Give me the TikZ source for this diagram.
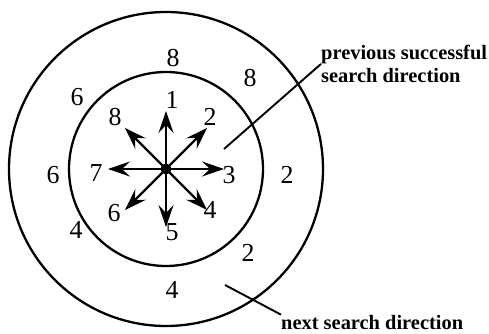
\documentclass[tikz,border=0pt]{standalone}
\usepackage{fontspec}
\setmainfont{Liberation Serif}
\usetikzlibrary{arrows.meta, calc}

\begin{document}
\begin{tikzpicture}[
  x=1bp, y=1bp,
  >={Stealth[length=22bp, width=15bp, inset=8bp]},  % 矢じり
  ring/.style={line width=2.3bp},
  dir/.style={->, line width=2.2bp},
  num/.style={font=\fontsize{26}{26}\selectfont, inner sep=0pt},
  note/.style={font=\fontsize{20.5}{23}\selectfont\bfseries, inner sep=0pt, align=left},
  leader/.style={line width=1.9bp}
  ]
  \useasboundingbox (0,0) rectangle (489,333);

  % --- 円 ---
  \coordinate (ctr) at (166,164);
  \draw [ring] (ctr) circle (157);
  \draw [ring] (ctr) circle (97);
  \fill (ctr) circle (5.5);

  % --- 8方向の矢印 ---
  \foreach \ang/\nm in {90/up, 45/ur, 0/rt, -45/dr, -90/dn, -135/dl, 180/lt, 135/ul} {
    \coordinate (tip-\nm) at ($(ctr)+(\ang:58)$);
    \draw [dir] (ctr) -- (tip-\nm);
  }

  % --- 内側の番号 ---
  \node [num] (n1) at (172,233) {1};
  \node [num] (n2) at (210,216) {2};
  \node [num] (n3) at (229,158) {3};
  \node [num] (n4) at (210,123) {4};
  \node [num] (n5) at (172,101) {5};
  \node [num] (n6) at (114,120) {6};
  \node [num] (n7) at (96,160) {7};
  \node [num] (n8) at (115,216) {8};

  % --- 外側の番号 ---
  \node [num] (o8a) at (173,275) {8};
  \node [num] (o8b) at (250,255) {8};
  \node [num] (o2a) at (287,158) {2};
  \node [num] (o2b) at (248,80) {2};
  \node [num] (o4a) at (172,43) {4};
  \node [num] (o4b) at (76,103) {4};
  \node [num] (o6a) at (53,158) {6};
  \node [num] (o6b) at (77,236) {6};

  % --- 注記 ---
  \node [note, anchor=north west] (prevtxt) at (321,288) {previous successful\\search direction};
  \coordinate (prevend) at (224,184);
  \draw [leader] (prevend) -- (prevtxt.west);

  \node [note, anchor=base west] (nexttxt) at (281,4) {next search direction};
  \coordinate (nextend) at (225,48);
  \draw [leader] (nextend) -- (nexttxt.north west);

\end{tikzpicture}
\end{document}
